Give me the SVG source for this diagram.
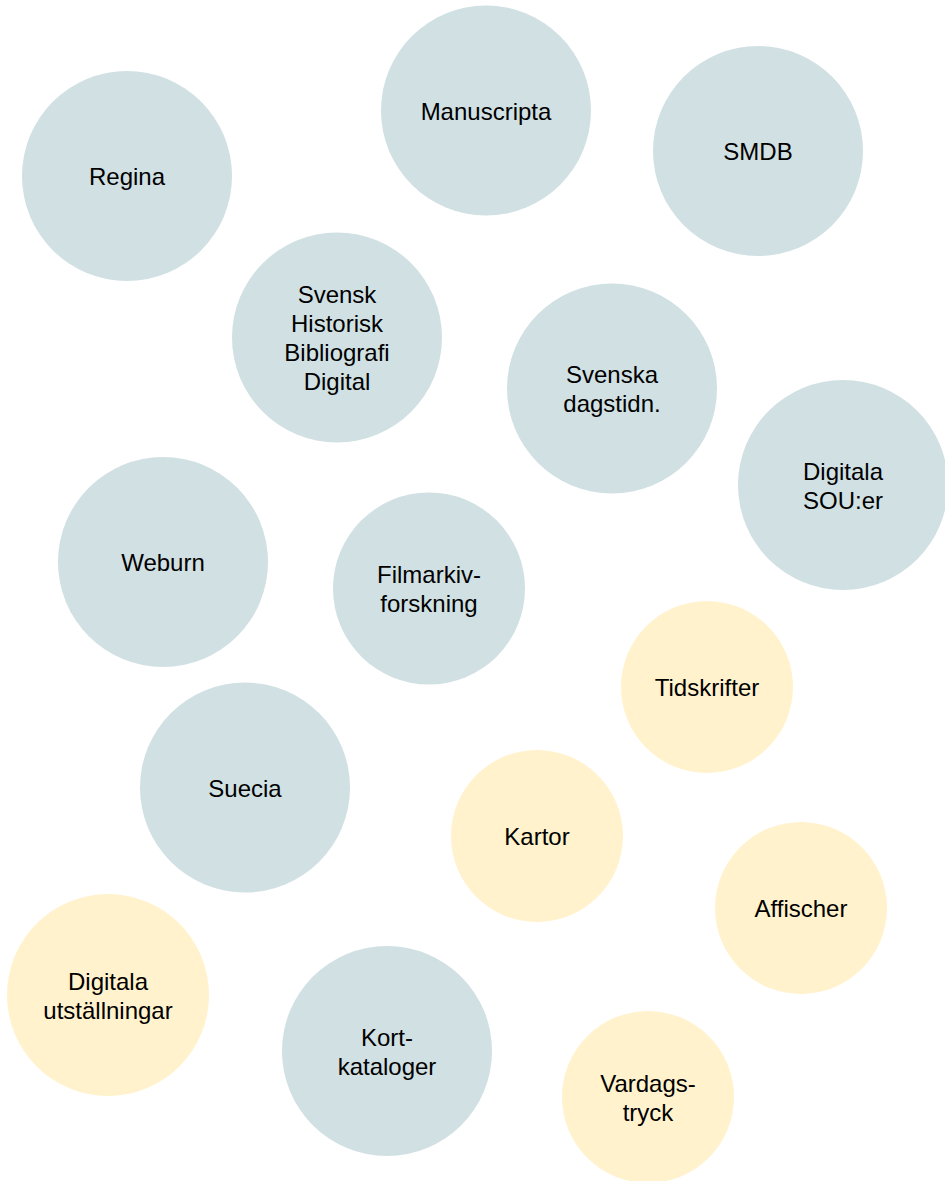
<svg xmlns="http://www.w3.org/2000/svg" width="945" height="1181" viewBox="0 0 945 1181">
<style>
.b{fill:#D0E0E3}
.y{fill:#FFF2CC}
text{font-family:"Liberation Sans",Arial,sans-serif;font-size:24px;fill:#000;text-anchor:middle}
</style>
<rect width="945" height="1181" fill="#fff"/>
<g id="regina"><circle class="b" cx="127" cy="176" r="105"/><text x="127" y="185">Regina</text></g>
<g id="manuscripta"><circle class="b" cx="486" cy="110.5" r="105"/><text x="486" y="119.5">Manuscripta</text></g>
<g id="smdb"><circle class="b" cx="758" cy="151" r="105"/><text x="758" y="160">SMDB</text></g>
<g id="shbd"><circle class="b" cx="337" cy="337.5" r="105"/><text x="337" y="303"><tspan x="337">Svensk</tspan><tspan x="337" dy="29">Historisk</tspan><tspan x="337" dy="29">Bibliografi</tspan><tspan x="337" dy="29">Digital</tspan></text></g>
<g id="dagstidn"><circle class="b" cx="612" cy="388.5" r="105"/><text x="612" y="383"><tspan x="612">Svenska</tspan><tspan x="612" dy="29">dagstidn.</tspan></text></g>
<g id="sou"><circle class="b" cx="843" cy="485" r="105"/><text x="843" y="479.5"><tspan x="843">Digitala</tspan><tspan x="843" dy="29">SOU:er</tspan></text></g>
<g id="weburn"><circle class="b" cx="163" cy="562" r="105"/><text x="163" y="571">Weburn</text></g>
<g id="filmarkiv"><circle class="b" cx="429" cy="588.5" r="96"/><text x="429" y="583"><tspan x="429">Filmarkiv-</tspan><tspan x="429" dy="29">forskning</tspan></text></g>
<g id="tidskrifter"><circle class="y" cx="707" cy="687" r="86"/><text x="707" y="696">Tidskrifter</text></g>
<g id="suecia"><circle class="b" cx="245" cy="787.5" r="105"/><text x="245" y="796.5">Suecia</text></g>
<g id="kartor"><circle class="y" cx="537" cy="836" r="86"/><text x="537" y="845">Kartor</text></g>
<g id="affischer"><circle class="y" cx="801" cy="908" r="86"/><text x="801" y="917">Affischer</text></g>
<g id="utstallningar"><circle class="y" cx="108" cy="995" r="101"/><text x="108" y="989.5"><tspan x="108">Digitala</tspan><tspan x="108" dy="29">utställningar</tspan></text></g>
<g id="kortkataloger"><circle class="b" cx="387" cy="1051" r="105"/><text x="387" y="1045.5"><tspan x="387">Kort-</tspan><tspan x="387" dy="29">kataloger</tspan></text></g>
<g id="vardagstryck"><circle class="y" cx="648" cy="1097" r="86"/><text x="648" y="1091.5"><tspan x="648">Vardags-</tspan><tspan x="648" dy="29">tryck</tspan></text></g>
<g id="connectors"/>
</svg>
